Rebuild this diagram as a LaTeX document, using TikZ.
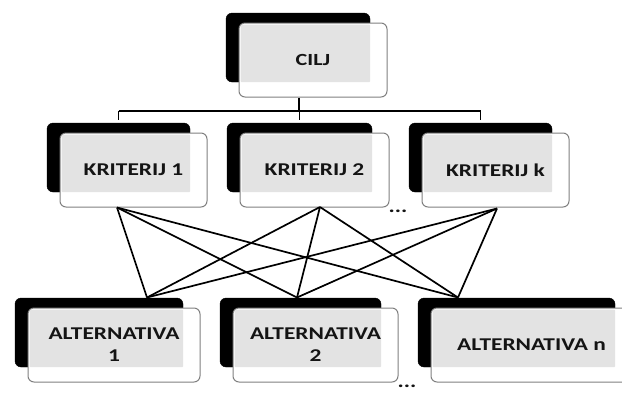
\documentclass[tikz,border=0pt]{standalone}
\usepackage{fontspec}
\setmainfont{Carlito}
\usetikzlibrary{calc}
\tikzstyle{shadowbox}=[rectangle,rounded corners=6pt,fill=black,draw=black,inner sep=0pt, anchor = center]
\tikzstyle{cardbox}=[rectangle,rounded corners=6pt,fill=white,draw=black!50,line width=1pt,inner sep=0pt, anchor = center]
\tikzstyle{innerfill}=[fill=black!11,rounded corners=1pt]
\tikzstyle{lbl} = [align=center, font=\fontsize{18}{22}\selectfont\bfseries, text=black!92, xscale=1.3]
\tikzstyle{link} = [line width=1.7pt, black]
\newcommand{\drawcard}[6]
{
  \node[shadowbox, minimum width=#4pt, minimum height=#5pt](#1s) at (#2,#3){};
  \node[cardbox, minimum width=#4pt+4pt, minimum height=#5pt+5pt](#1) at (#2+15,#3+12.5){};
  \fill[innerfill] ([shift={(2,2)}]#1.north west) rectangle (#1s.south east);
  \node[lbl](#1t) at (#1.center){#6};
}

\begin{document}
\begin{tikzpicture}[x=1pt,y=-1pt]
	\clip (0,0) rectangle (622,392);
	\fill[white] (0,0) rectangle (622,392);

	\drawcard{cilj}{298}{47.5}{144}{69}{\fontsize{17}{20}\selectfont CILJ}

	\drawcard{crit1}{118.5}{157.5}{143}{69}{KRITERIJ 1}
	\drawcard{crit2}{299.5}{157.5}{145}{69}{KRITERIJ 2}
	\drawcard{critk}{480.5}{157.5}{143}{69}{KRITERIJ k}

	\drawcard{alt1}{99}{332.5}{168}{69}{ALTERNATIVA\\1}
	\drawcard{alt2}{300.5}{332.5}{161}{69}{ALTERNATIVA\\2}
	\drawcard{altn}{516.5}{332.5}{197}{69}{ALTERNATIVA n}

	% goal to criteria
	\coordinate (hub) at (299,111);
	\draw[link] (cilj.south -| hub) -- (hub);
	\draw[link, shorten >=3pt] (crit1s.north |- hub) -- (crit1s.north);
	\draw[link, shorten >=3pt] (crit2s.north |- hub) -- (crit2s.north);
	\draw[link, shorten >=3pt] (critks.north |- hub) -- (critks.north);
	\draw[link] (crit1s.north |- hub) -- (critks.north |- hub);

	% criteria to alternatives
	\coordinate (c1) at (117,207.5);
	\coordinate (c2) at (320,207);
	\coordinate (ck) at (497,208.5);
	\coordinate (a1) at (147,297.5);
	\coordinate (a2) at (297,297.5);
	\coordinate (an) at (458,297.5);
	\foreach \a in {c1,c2,ck}
		\foreach \b in {a1,a2,an}
			\draw[link] (\a) -- (\b);

	\node[lbl](dotsk) at (398,211){...};
	\node[lbl](dotsn) at (407,386.5){...};

\end{tikzpicture}
\end{document}
